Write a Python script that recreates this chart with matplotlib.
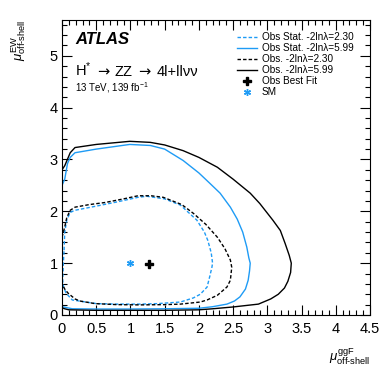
import numpy as np
import matplotlib
matplotlib.use('Agg')
import matplotlib.pyplot as plt
from matplotlib.ticker import MultipleLocator, FuncFormatter
from matplotlib.lines import Line2D
from matplotlib.offsetbox import TextArea, HPacker, AnchoredOffsetbox

plt.rcParams['font.family'] = ['Liberation Sans', 'DejaVu Sans']
plt.rcParams['mathtext.fontset'] = 'custom'
plt.rcParams['mathtext.rm'] = 'Liberation Sans'
plt.rcParams['mathtext.it'] = 'Liberation Sans:italic'
plt.rcParams['mathtext.bf'] = 'Liberation Sans:bold'

# contours (mu_ggF, mu_EW)
obs599_x = [0.0, 0.04, 0.12, 0.19, 0.5, 0.99, 1.29, 1.5, 1.77, 2.0, 2.27, 2.5, 2.75, 2.89,
            3.08, 3.19, 3.26, 3.32, 3.35, 3.34, 3.30, 3.25, 3.16, 3.05, 2.87, 2.6, 2.5, 2.2,
            2.0, 1.5, 1.0, 0.5, 0.1, 0.04, 0.0]
obs599_y = [2.80, 2.88, 3.13, 3.23, 3.29, 3.35, 3.33, 3.28, 3.17, 3.04, 2.85, 2.62, 2.35, 2.15,
            1.83, 1.63, 1.38, 1.15, 1.0, 0.82, 0.65, 0.52, 0.40, 0.31, 0.21, 0.17, 0.155, 0.12,
            0.10, 0.09, 0.09, 0.09, 0.10, 0.12, 0.14]

stat599_x = [0.0, 0.04, 0.08, 0.12, 0.19, 0.5, 0.99, 1.29, 1.5, 1.77, 2.0, 2.16, 2.31, 2.46,
             2.56, 2.64, 2.70, 2.73, 2.75, 2.74, 2.72, 2.68, 2.60, 2.52, 2.41, 2.2, 2.0, 1.5,
             1.0, 0.5, 0.15, 0.04, 0.0]
stat599_y = [2.50, 2.62, 2.92, 3.04, 3.13, 3.20, 3.29, 3.27, 3.20, 2.98, 2.74, 2.54, 2.35, 2.08,
             1.85, 1.60, 1.31, 1.10, 1.0, 0.85, 0.67, 0.50, 0.35, 0.27, 0.21, 0.16, 0.13, 0.12,
             0.115, 0.115, 0.12, 0.15, 0.16]

obs230_x = [0.0, 0.04, 0.07, 0.12, 0.19, 0.4, 0.63, 0.9, 1.11, 1.3, 1.48, 1.75, 1.92, 2.1,
            2.27, 2.38, 2.46, 2.48, 2.46, 2.41, 2.27, 2.12, 2.02, 1.73, 1.5, 1.14, 0.8, 0.48,
            0.26, 0.19, 0.09, 0.04, 0.0]
obs230_y = [1.50, 1.70, 1.88, 2.02, 2.08, 2.13, 2.17, 2.24, 2.30, 2.30, 2.27, 2.13, 1.96, 1.75,
            1.50, 1.28, 1.06, 0.92, 0.67, 0.54, 0.38, 0.29, 0.25, 0.21, 0.20, 0.195, 0.20, 0.22,
            0.27, 0.31, 0.42, 0.50, 0.60]

stat230_x = [0.03, 0.04, 0.07, 0.12, 0.19, 0.5, 0.8, 1.11, 1.24, 1.5, 1.73, 1.97, 2.08, 2.13,
             2.18, 2.20, 2.19, 2.16, 2.12, 2.02, 1.92, 1.73, 1.4, 1.14, 0.8, 0.5, 0.25, 0.15,
             0.06, 0.02, 0.01, 0.02, 0.03]
stat230_y = [1.25, 1.60, 1.83, 1.98, 2.02, 2.10, 2.18, 2.27, 2.29, 2.24, 2.12, 1.83, 1.60, 1.44,
             1.20, 1.0, 0.92, 0.75, 0.54, 0.40, 0.33, 0.25, 0.22, 0.21, 0.21, 0.22, 0.27, 0.29,
             0.42, 0.55, 0.67, 1.0, 1.25]

best_fit = (1.27, 0.98)
sm_point = (1.0, 1.0)

blue = '#1e9bf5'
dash = (0, (2.5, 1.5))

fig = plt.figure(figsize=(3.9, 3.75), dpi=100)
ax = fig.add_axes([62/390, 1 - 315/375, 308/390, 295.5/375])

ax.plot(stat230_x, stat230_y, color=blue, lw=1.0, ls=dash)
ax.plot(stat599_x, stat599_y, color=blue, lw=1.0, ls='-')
ax.plot(obs230_x, obs230_y, color='black', lw=1.0, ls=dash)
ax.plot(obs599_x, obs599_y, color='black', lw=1.0, ls='-')
ax.plot([best_fit[0]], [best_fit[1]], marker='P', color='black', ms=6, ls='none')
ax.plot([sm_point[0]], [sm_point[1]], marker=(6, 2, 0), color=blue, ms=5, mew=1.0, ls='none')

ax.set_xlim(0, 4.5)
ax.set_ylim(0, 5.7)
ax.xaxis.set_major_locator(MultipleLocator(0.5))
ax.xaxis.set_minor_locator(MultipleLocator(0.1))
ax.yaxis.set_major_locator(MultipleLocator(1))
ax.yaxis.set_minor_locator(MultipleLocator(0.2))
ax.xaxis.set_major_formatter(FuncFormatter(lambda v, p: '%g' % v))
ax.tick_params(which='both', direction='in', top=True, right=True, width=0.8)
ax.tick_params(which='major', length=7.5, labelsize=10.5)
ax.tick_params(axis='x', which='major', pad=5)
ax.tick_params(axis='y', which='major', pad=3)
ax.tick_params(which='minor', length=3.5)
for s in ax.spines.values():
    s.set_linewidth(0.8)

fig.text(75/390, 1 - 40/375, 'ATLAS', fontsize=12, fontweight='bold', style='italic', va='center')

# process line, arrows taken from DejaVu Sans (wider than the Liberation glyph)
fs = 10.5
arrow_kw = dict(fontsize=fs, family='DejaVu Sans')
parts = [TextArea(r'H$^{*}$', textprops=dict(fontsize=fs)),
         TextArea('→', textprops=arrow_kw),
         TextArea('ZZ', textprops=dict(fontsize=fs)),
         TextArea('→', textprops=arrow_kw),
         TextArea('4l+llνν', textprops=dict(fontsize=fs))]
row = HPacker(children=parts, pad=0, sep=4, align='baseline')
box = AnchoredOffsetbox(loc='center left', child=row, pad=0, borderpad=0, frameon=False,
                        bbox_to_anchor=(75/390, 1 - 70/375), bbox_transform=fig.transFigure)
fig.add_artist(box)

fig.text(75/390, 1 - 88/375, r'13 TeV, 139 fb$^{-1}$', fontsize=7, va='center')

fig.text(19/390, 1 - 20/375, r'$\mu^{\mathrm{EW}}_{\mathrm{off\text{-}shell}}$', fontsize=9.5,
         rotation=90, ha='center', va='top')
fig.text(370/390, 1 - 357/375, r'$\mu^{\mathrm{ggF}}_{\mathrm{off\text{-}shell}}$', fontsize=9.5,
         ha='right', va='center')

handles = [
    Line2D([], [], color=blue, lw=1.0, ls=dash),
    Line2D([], [], color=blue, lw=1.0),
    Line2D([], [], color='black', lw=1.0, ls=dash),
    Line2D([], [], color='black', lw=1.0),
    Line2D([], [], color='black', marker='P', ms=6, ls='none'),
    Line2D([], [], color=blue, marker=(6, 2, 0), ms=5, mew=1.0, ls='none'),
]
labels = ['Obs Stat. -2lnλ=2.30', 'Obs Stat. -2lnλ=5.99', 'Obs. -2lnλ=2.30',
          'Obs. -2lnλ=5.99', 'Obs Best Fit', 'SM']
fig.legend(handles, labels, loc='upper left', bbox_to_anchor=(237/390, 1 - 32/375),
           frameon=False, fontsize=7.2, handlelength=2.0, handletextpad=0.5,
           labelspacing=0.1, borderpad=0, borderaxespad=0)

plt.savefig('out.png', dpi=100)
